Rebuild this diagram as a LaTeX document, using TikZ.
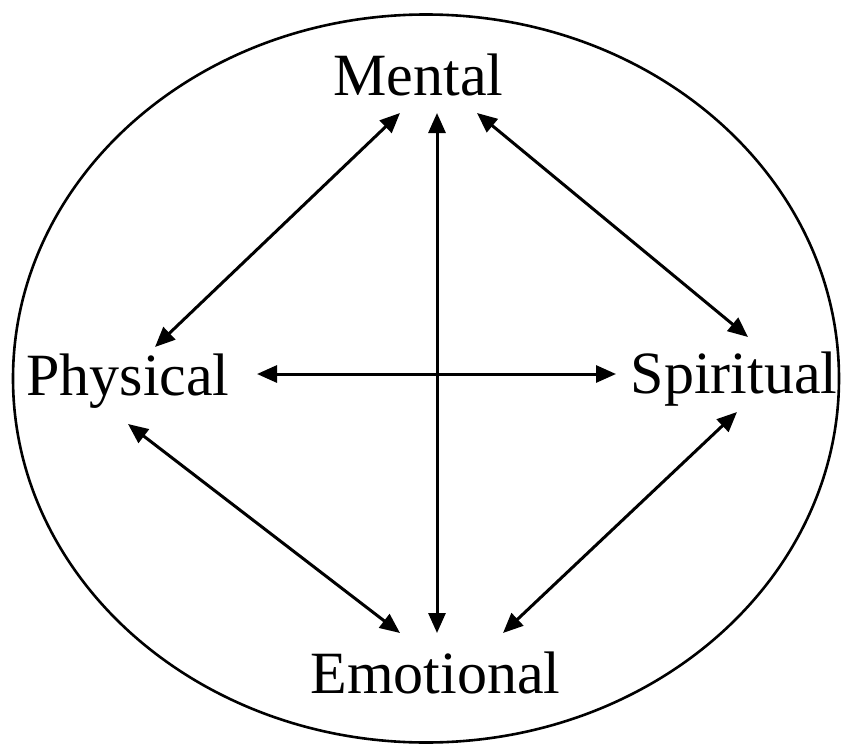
\documentclass[tikz,border=0pt]{standalone}
\usepackage{fontspec}
\setmainfont{Liberation Serif}
\usetikzlibrary{arrows.meta}
\usetikzlibrary{positioning}

\begin{document}
\begin{tikzpicture}[
    x=1pt, y=-1pt,
    every node/.style={font=\fontsize{60}{70}\selectfont, inner sep=0pt, anchor=base},
    link/.style={<->, line width=3pt},
  ]
\tikzset{>={Triangle[length=20pt, width=17pt]}}
  \useasboundingbox (0,0) rectangle (841,744);

  \draw[line width=2.6pt] (426,378.5) ellipse [x radius=413, y radius=364];

  \node (M) at (418.5, 95)  {Mental};
  \node (P) at (128, 395)   {Physical};
  \node (S) at (734, 393)   {Spiritual};
  \node (E) at (435.5, 693) {Emotional};

  % arrow ends
  \coordinate (MP) at (400, 113);
  \coordinate (PM) at (155, 347);
  \coordinate (ME) at (437, 113);
  \coordinate (EM) at (437, 633);
  \coordinate (MS) at (477, 113);
  \coordinate (SM) at (748, 337);
  \coordinate (PS) at (257, 374);
  \coordinate (SP) at (616, 374);
  \coordinate (PE) at (128, 424);
  \coordinate (EP) at (400, 633);
  \coordinate (SE) at (737, 412);
  \coordinate (ES) at (503, 633);

  \draw[link] (MP) -- (PM);
  \draw[link] (ME) -- (EM);
  \draw[link] (MS) -- (SM);
  \draw[link] (PS) -- (SP);
  \draw[link] (PE) -- (EP);
  \draw[link] (SE) -- (ES);

\end{tikzpicture}
\end{document}
